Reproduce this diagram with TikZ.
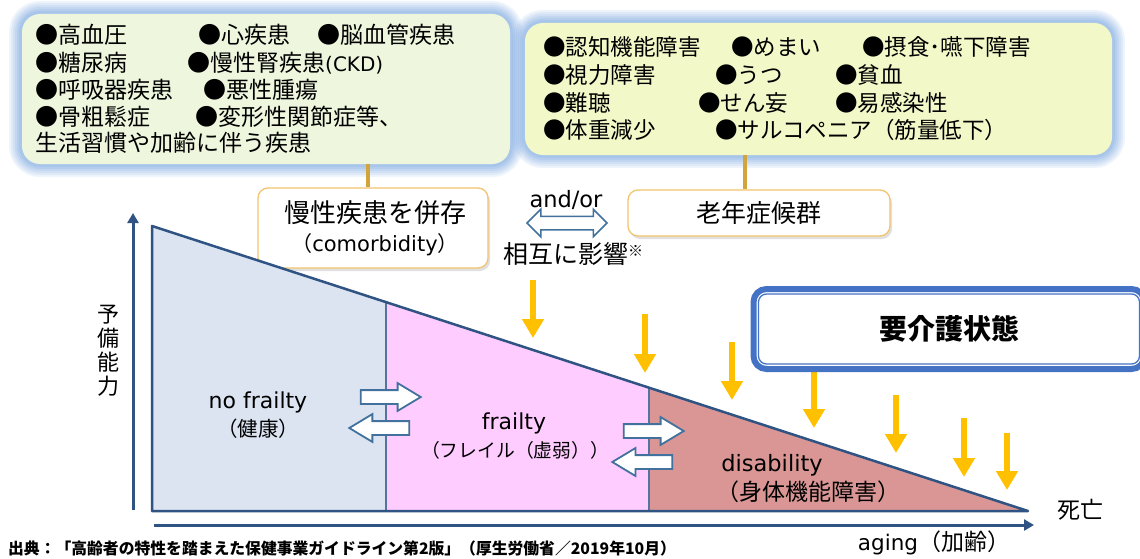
\documentclass[tikz,border=0pt]{standalone}
\usepackage{fontspec}
\setmainfont{Noto Sans CJK JP}
\newfontfamily\lat{DejaVu Sans}
\usetikzlibrary{arrows.meta,shapes.arrows}
\definecolor{lgreen}{HTML}{EEF7DE}
\definecolor{lyellow}{HTML}{F3F8C8}
\definecolor{glowc}{HTML}{7FA9E0}
\definecolor{axisc}{HTML}{2F5383}
\definecolor{nofc}{HTML}{DBE4F0}
\definecolor{frc}{HTML}{FFCCFF}
\definecolor{disc}{HTML}{D99694}
\definecolor{divc}{HTML}{5674A0}
\definecolor{orangec}{HTML}{FFC000}
\definecolor{hollowc}{HTML}{41719C}
\definecolor{goldc}{HTML}{D1A43C}
\definecolor{obord}{HTML}{F2C46D}
\definecolor{kaigoc}{HTML}{4472C4}
\newcommand\fsz[1]{\fontsize{#1}{#1}\selectfont}
\begin{document}
\begin{tikzpicture}[x=1pt,y=-1pt,
  glowbox/.style={rounded corners=18pt,
    preaction={draw=glowc, line width=26pt, draw opacity=0.13},
    preaction={draw=glowc, line width=22pt, draw opacity=0.13},
    preaction={draw=glowc, line width=18pt, draw opacity=0.15},
    preaction={draw=glowc, line width=14pt, draw opacity=0.17},
    preaction={draw=glowc, line width=10pt, draw opacity=0.2},
    preaction={draw=glowc, line width=6pt, draw opacity=0.25}},
  lt/.style={anchor=west, inner sep=0pt, font=\fsz{23}},
  rt/.style={anchor=west, inner sep=0pt, font=\fsz{22.5}},
  obox/.style={draw=obord, line width=1.3pt, fill=white, rounded corners=10pt,
    preaction={fill=black, fill opacity=0.12, rounded corners=10pt, transform canvas={xshift=2pt,yshift=-3pt}}},
  lbl/.style={inner sep=0pt},
  goldline/.style={draw=goldc, line width=3.5pt},
  oarrow/.style={draw=orangec, line width=6.5pt, -{Triangle[width=21pt,length=19pt]}},
  hollowr/.style={single arrow, draw=hollowc, fill=white, line width=1.8pt, minimum height=60pt,
    inner xsep=0pt, inner ysep=6pt, single arrow head extend=7pt, single arrow tip angle=62},
  axisline/.style={draw=axisc, line width=3pt, -{Triangle[width=11pt,length=10pt]}}
]
\useasboundingbox (0,0) rectangle (1140,559);
\clip (0,0) rectangle (1140,559);

% top boxes
\node[glowbox, fill=lgreen, minimum width=488pt, minimum height=150pt] (lbox) at (266,89) {};
\node[glowbox, fill=lyellow, minimum width=587pt, minimum height=132pt] (rbox) at (818.5,89) {};

\node[lt] (a1) at (35,35) {●高血圧};
\node[lt] (a2) at (198,35) {●心疾患};
\node[lt] (a3) at (317,35) {●脳血管疾患};
\node[lt] (a4) at (35,63) {●糖尿病};
\node[lt] (a5) at (187,63) {●慢性腎疾患{\lat\fsz{20}(CKD)}};
\node[lt] (a6) at (35,90) {●呼吸器疾患};
\node[lt] (a7) at (203,90) {●悪性腫瘍};
\node[lt] (a8) at (35,117) {●骨粗鬆症};
\node[lt] (a9) at (195,117) {●変形性関節症等、};
\node[lt] (a10) at (35,143) {生活習慣や加齢に伴う疾患};

\node[rt] (b1) at (543,47) {●認知機能障害};
\node[rt] (b2) at (731,47) {●めまい};
\node[rt] (b3) at (862,47) {●摂食･嚥下障害};
\node[rt] (b4) at (543,75) {●視力障害};
\node[rt] (b5) at (715,75) {●うつ};
\node[rt] (b6) at (835,75) {●貧血};
\node[rt] (b7) at (543,103) {●難聴};
\node[rt] (b8) at (698,103) {●せん妄};
\node[rt] (b9) at (835,103) {●易感染性};
\node[rt] (b10) at (543,130) {●体重減少};
\node[rt] (b11) at (715,130) {●サルコペニア（筋量低下）};

% middle boxes
\node[obox, minimum width=230pt, minimum height=80pt] (comor) at (373,228) {};
\node[lbl, font=\fsz{26}] (comt1) at (375,213) {慢性疾患を併存};
\node[lbl, font=\fsz{21}] (comt2) at (375,245) {（{\lat comorbidity}）};
\node[obox, minimum width=262pt, minimum height=46pt, font=\fsz{25}] (ronen) at (759,213) {老年症候群};

\coordinate (c1x) at (368,0);
\coordinate (c2x) at (745,0);
\draw[goldline] (lbox.south -| c1x) -- (comor.north -| c1x);
\draw[goldline] (rbox.south -| c2x) -- (ronen.north -| c2x);

\node[lbl, font=\lat\fsz{22.5}] (andor) at (566,200) {and/or};
\node[double arrow, draw=hollowc, fill=white, line width=1.5pt, minimum height=80pt,
  inner xsep=0pt, inner ysep=6pt, double arrow head extend=7pt] (dbl) at (567,223) {};
\node[lbl, font=\fsz{25}] (sogo) at (573,254) {相互に影響{\fsz{15}\raisebox{7pt}{※}}};

% chart
\fill[nofc] (152,226) -- (386,302.1) -- (386,511) -- (152,511) -- cycle;
\fill[frc] (386,302.1) -- (649,387.7) -- (649,511) -- (386,511) -- cycle;
\fill[disc] (649,387.7) -- (1028,511) -- (649,511) -- cycle;
\draw[divc, line width=1.5pt] (386,302.1) -- (386,511) (649,387.7) -- (649,511);
\draw[axisc, line width=2.5pt, line join=round] (152,226) -- (1028,511) -- (152,511) -- cycle;

\coordinate (yax0) at (133,510);
\coordinate (yax1) at (133,213);
\draw[axisline] (yax0) -- (yax1);
\coordinate (xax0) at (154,525);
\coordinate (xax1) at (1034,525);
\draw[axisline] (xax0) -- (xax1);

\node[lbl, font=\lat\fsz{22}] (nof) at (258,402) {no frailty};
\node[lbl, font=\fsz{20.5}] (nofj) at (258,429) {（健康）};
\node[lbl, font=\lat\fsz{22}] (fr) at (514,423) {frailty};
\node[lbl, font=\fsz{18.8}] (frj) at (515,450) {（フレイル（虚弱））};
\node[lbl, font=\lat\fsz{22.5}] (dis) at (772,465) {disability};
\node[lbl, font=\fsz{23}] (disj) at (808,492) {（身体機能障害）};

\node[hollowr] (r1) at (385,397) {};
\node[hollowr, shape border rotate=180] (l1) at (385,428) {};
\node[hollowr] (r2) at (648,431) {};
\node[hollowr, shape border rotate=180] (l2) at (648,462) {};

\node[lbl, font=\fsz{22}, align=center] (yobi) at (108,351) {予\\[2pt]備\\[2pt]能\\[2pt]力};
\node[lbl, font=\fsz{23}] (shibo) at (1080,510) {死亡};
\node[lbl, font=\fsz{23}] (aging) at (934,543) {{\lat\fsz{21.5}aging}（加齢）};
\node[lbl, anchor=west, font=\fsz{15.8}\bfseries] (src) at (8,548) {出典：「高齢者の特性を踏まえた保健事業ガイドライン第2版」（厚生労働省／2019年10月）};

% orange arrows
\foreach \n/\x/\t/\b in {a/533/280/338, b/645/314/373, c/732/342/400, d/814/372/428, e/896/395/453, f/964/418/477, g/1007/433/490}{
  \coordinate (o\n s) at (\x,\t);
  \coordinate (o\n e) at (\x,\b);
  \draw[oarrow] (o\n s) -- (o\n e);
}

% care box
\node[draw=kaigoc, line width=6pt, fill=white, rounded corners=13pt, minimum width=391pt, minimum height=80pt,
  font=\fsz{28}\bfseries] (kaigo) at (949,329) {要介護状態};
\draw[kaigoc, line width=1.3pt, rounded corners=8pt] ([shift={(8,8)}]kaigo.north west) rectangle ([shift={(-8,-8)}]kaigo.south east);
\end{tikzpicture}
\end{document}
